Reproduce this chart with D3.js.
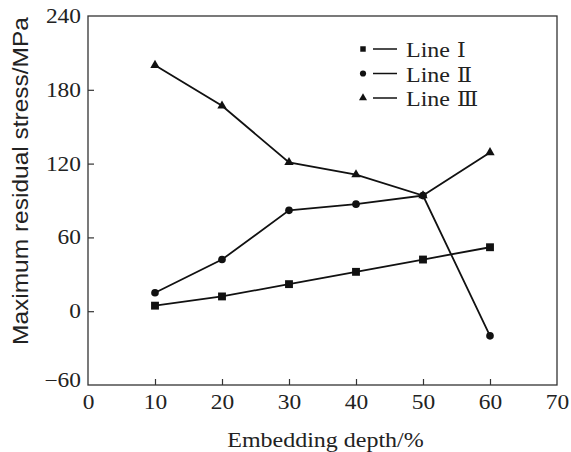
<!DOCTYPE html>
<html>
<head>
<meta charset="utf-8">
<script src="https://cdn.jsdelivr.net/npm/d3@7"></script>
<style>
  body { margin: 0; background: #fff; }
  text { font-family: "Liberation Serif", "DejaVu Serif", serif; fill: #222; }
</style>
</head>
<body>
<svg id="chart" width="571" height="452"></svg>
<script>
// values
const depths = [10, 20, 30, 40, 50, 60];
const line1 = [4.5, 12, 22, 32, 42, 52];
const line2 = [15, 42, 82, 87, 94, -20];
const line3 = [200, 167, 121, 111, 94, 129];
const xTicks = [0, 10, 20, 30, 40, 50, 60, 70];
const yTicks = [-60, 0, 60, 120, 180, 240];
const seriesNames = ["Line", "Line", "Line"];
const seriesNums = ["\u2160", "\u2161", "\u2162"];

const margin = {left: 88, right: 14, top: 16, bottom: 67};
const width = 571, height = 452;
// the scanned figure is a bit wider than tall, stretch text to match
const stretch = "scale(1.17,1)";

const svg = d3.select("#chart");

const x = d3.scaleLinear().domain([0, 70]).range([margin.left, width - margin.right]);
const y = d3.scaleLinear().domain([-60, 240]).range([height - margin.bottom, margin.top]);

// frame
svg.append("rect")
    .attr("x", x(0)).attr("y", y(240))
    .attr("width", x(70) - x(0)).attr("height", y(-60) - y(240))
    .attr("fill", "none").attr("stroke", "#333").attr("stroke-width", 1.3);

// x axis, ticks inward
const xAxis = svg.append("g")
    .attr("transform", `translate(0,${y(-60)})`)
    .call(d3.axisBottom(x).tickValues(xTicks).tickSize(-6).tickPadding(10));
xAxis.select(".domain").remove();
xAxis.selectAll(".tick line").attr("stroke", "#333").attr("stroke-width", 1.2)
    .filter(d => d === 0 || d === 70).remove();
xAxis.selectAll("text").attr("font-size", 20).attr("fill", "#222")
    .attr("transform", stretch)
    .style("font-family", "Liberation Serif");

// y axis, ticks inward
const yAxis = svg.append("g")
    .attr("transform", `translate(${x(0)},0)`)
    .call(d3.axisLeft(y).tickValues(yTicks).tickSize(-6).tickPadding(6)
        .tickFormat(d => d < 0 ? "\u2212" + Math.abs(d) : d));
yAxis.select(".domain").remove();
yAxis.selectAll(".tick line").attr("stroke", "#333").attr("stroke-width", 1.2)
    .filter(d => d === -60 || d === 240).remove();
yAxis.selectAll("text").attr("font-size", 20).attr("fill", "#222")
    .attr("transform", stretch)
    .style("font-family", "Liberation Serif");
yAxis.selectAll(".tick text").filter(d => d === -60).attr("dy", "0.05em");

// axis titles
svg.append("text")
    .attr("transform", `translate(${(x(0) + x(70)) / 2 + 3},447) ${stretch}`)
    .attr("text-anchor", "middle").attr("font-size", 20.5)
    .text("Embedding depth/%");
svg.append("text")
    .attr("transform", `translate(28,181) rotate(-90) scale(1,0.9)`)
    .attr("text-anchor", "middle").attr("font-size", 24.5)
    .attr("fill", "#333")
    .style("font-family", "Liberation Sans")
    .text("Maximum residual stress/MPa");

const lineGen = d3.line().x((d, i) => x(depths[i])).y(d => y(d));
const series = [line1, line2, line3];
const symbols = [d3.symbolSquare, d3.symbolCircle, d3.symbolTriangle];
const symSizes = [62, 46, 38];

series.forEach((vals, s) => {
    svg.append("path")
        .datum(vals)
        .attr("d", lineGen)
        .attr("fill", "none").attr("stroke", "#111").attr("stroke-width", 1.8);
    svg.selectAll(".m" + s)
        .data(vals)
        .enter().append("path")
        .attr("class", "m" + s)
        .attr("transform", (d, i) => `translate(${x(depths[i])},${y(d)})`)
        .attr("d", d3.symbol().type(symbols[s]).size(symSizes[s]))
        .attr("fill", "#111");
});

// legend
const legend = svg.append("g");
seriesNames.forEach((name, i) => {
    const ly = 49 + i * 24.5;
    legend.append("path")
        .attr("transform", `translate(363,${ly})`)
        .attr("d", d3.symbol().type(symbols[i]).size(i === 2 ? 28 : 30))
        .attr("fill", "#111");
    legend.append("line")
        .attr("x1", 373).attr("x2", 397).attr("y1", ly).attr("y2", ly)
        .attr("stroke", "#111").attr("stroke-width", 1.5);
    legend.append("text")
        .attr("transform", `translate(406,${ly + 8}) scale(1.17,1)`)
        .attr("font-size", 20.5)
        .text(name);
    legend.append("text")
        .attr("transform", `translate(457,${ly + 8}) scale(1.1,1)`)
        .attr("font-size", 20)
        .attr("fill", "#333")
        .style("font-family", "DejaVu Serif")
        .text(seriesNums[i]);
});
</script>
</body>
</html>
